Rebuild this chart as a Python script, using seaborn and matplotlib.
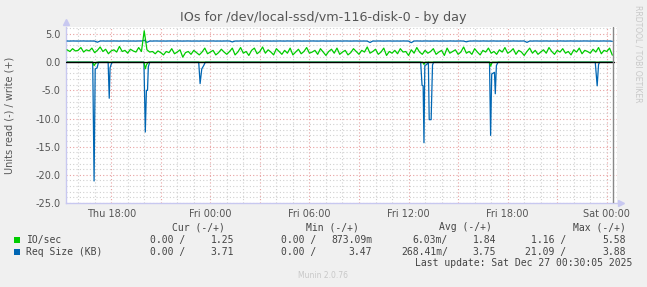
import numpy as np
import pandas as pd
import matplotlib
matplotlib.use("Agg")
import matplotlib.pyplot as plt
import matplotlib.dates as mdates
from matplotlib.ticker import MultipleLocator, FuncFormatter
from matplotlib.patches import Rectangle
import seaborn as sns

# ---------------- data ----------------
sample_start = "2025-12-25 15:20"
sample_step = "10min"

io_write = [
    2.2, 1.9, 2.4, 2.0, 2.1, 2.6, 1.8, 2.2, 2.0, 2.5,
    1.7, 2.1, 2.7, 1.9, 2.3, 1.5, 2.0, 2.2, 1.8, 2.8,
    1.9, 2.1, 1.6, 2.3, 2.0, 1.8, 2.6, 1.9, 5.58, 2.2,
    1.8, 1.9, 1.5, 2.0, 1.7, 1.3, 1.9, 1.7, 2.4, 1.5,
    1.8, 2.2, 0.9, 1.7, 1.9, 1.4, 2.1, 1.7, 1.3, 1.8,
    2.5, 1.5, 1.8, 2.1, 1.3, 1.7, 2.3, 1.8, 1.4, 1.9,
    2.5, 1.3, 1.8, 2.6, 1.6, 1.9, 1.2, 2.1, 2.5, 1.5,
    1.9, 2.7, 1.6, 2.2, 1.8, 1.3, 2.4, 1.9, 1.4, 2.1,
    1.6, 2.5, 1.3, 1.8, 2.3, 1.5, 1.9, 2.6, 1.6, 1.8,
    2.1, 1.4, 2.4, 1.8, 1.2, 1.9, 2.3, 1.6, 2.5, 1.4,
    1.8, 2.1, 1.3, 1.7, 2.4, 1.9, 1.4, 2.1, 1.8, 2.7,
    1.6, 1.9, 2.3, 1.4, 1.8, 2.5, 1.2, 1.9, 1.6, 2.1,
    1.5, 2.4, 1.8, 1.9, 1.2, 2.2, 1.6, 2.6, 1.8, 1.4,
    2.1, 1.6, 1.9, 2.4, 1.4, 1.8, 2.1, 1.2, 2.5, 1.6,
    1.9, 2.2, 1.4, 1.8, 2.7, 1.6, 1.9, 1.4, 2.4, 1.8,
    1.3, 2.1, 1.8, 2.5, 1.6, 1.9, 1.4, 2.2, 1.8, 2.6,
    1.6, 1.9, 2.4, 1.4, 2.1, 1.8, 1.2, 1.9, 2.5, 1.6,
    2.1, 1.4, 1.8, 2.2, 1.6, 2.6, 1.9, 1.4, 2.1, 1.8,
    2.4, 1.6, 1.9, 1.3, 2.2, 1.8, 2.5, 1.5, 2.1, 1.9,
    1.6, 2.3, 1.8, 2.6, 1.5, 2.1, 1.9, 2.5, 1.25,
]

req_write = [
    3.76, 3.75, 3.77, 3.76, 3.75, 3.76, 3.77, 3.75, 3.76, 3.76,
    3.75, 3.55, 3.76, 3.77, 3.75, 3.76, 3.75, 3.77, 3.76, 3.75,
    3.76, 3.77, 3.75, 3.76, 3.76, 3.75, 3.77, 3.76, 3.88, 3.52,
    3.76, 3.75, 3.77, 3.76, 3.75, 3.76, 3.75, 3.77, 3.76, 3.75,
    3.77, 3.76, 3.75, 3.76, 3.77, 3.75, 3.76, 3.76, 3.75, 3.77,
    3.76, 3.75, 3.76, 3.77, 3.75, 3.76, 3.75, 3.76, 3.77, 3.76,
    3.60, 3.76, 3.75, 3.77, 3.76, 3.75, 3.76, 3.77, 3.75, 3.76,
    3.76, 3.75, 3.77, 3.76, 3.75, 3.76, 3.75, 3.77, 3.76, 3.75,
    3.77, 3.76, 3.75, 3.76, 3.77, 3.75, 3.76, 3.76, 3.75, 3.77,
    3.76, 3.75, 3.76, 3.77, 3.75, 3.76, 3.75, 3.76, 3.77, 3.76,
    3.75, 3.77, 3.76, 3.75, 3.76, 3.77, 3.75, 3.76, 3.76, 3.75,
    3.50, 3.76, 3.75, 3.77, 3.76, 3.75, 3.76, 3.77, 3.75, 3.76,
    3.76, 3.75, 3.77, 3.76, 3.75, 3.47, 3.76, 3.77, 3.76, 3.75,
    3.77, 3.76, 3.75, 3.76, 3.77, 3.75, 3.76, 3.76, 3.75, 3.77,
    3.76, 3.75, 3.76, 3.77, 3.75, 3.62, 3.75, 3.76, 3.77, 3.76,
    3.75, 3.77, 3.76, 3.75, 3.76, 3.77, 3.75, 3.76, 3.76, 3.75,
    3.76, 3.75, 3.77, 3.76, 3.75, 3.76, 3.77, 3.52, 3.76, 3.75,
    3.77, 3.76, 3.75, 3.76, 3.77, 3.75, 3.76, 3.76, 3.75, 3.77,
    3.76, 3.75, 3.76, 3.77, 3.75, 3.76, 3.75, 3.76, 3.77, 3.76,
    3.75, 3.77, 3.76, 3.75, 3.76, 3.77, 3.75, 3.76, 3.71,
]

# read side (plotted negative)
req_read_times = [
    "2025-12-25 15:20",
    "2025-12-25 16:53", "2025-12-25 16:58", "2025-12-25 17:02", "2025-12-25 17:09", "2025-12-25 17:14",
    "2025-12-25 17:49", "2025-12-25 17:53", "2025-12-25 17:56", "2025-12-25 18:00", "2025-12-25 18:04",
    "2025-12-25 19:59", "2025-12-25 20:04", "2025-12-25 20:08", "2025-12-25 20:12", "2025-12-25 20:15", "2025-12-25 20:20",
    "2025-12-25 23:18", "2025-12-25 23:23", "2025-12-25 23:29", "2025-12-25 23:36", "2025-12-25 23:42",
    "2025-12-26 12:44", "2025-12-26 12:49", "2025-12-26 12:53", "2025-12-26 12:56", "2025-12-26 12:59",
    "2025-12-26 13:06", "2025-12-26 13:12", "2025-12-26 13:15", "2025-12-26 13:22", "2025-12-26 13:27", "2025-12-26 13:31",
    "2025-12-26 16:54", "2025-12-26 16:58", "2025-12-26 17:02", "2025-12-26 17:12", "2025-12-26 17:15", "2025-12-26 17:19", "2025-12-26 17:25",
    "2025-12-26 23:18", "2025-12-26 23:25", "2025-12-26 23:30", "2025-12-26 23:34",
    "2025-12-27 00:20",
]
req_read = [
    0.0,
    0.0, 21.09, 1.2, 1.0, 0.0,
    0.0, 6.4, 1.0, 0.4, 0.0,
    0.0, 12.4, 5.0, 5.0, 0.8, 0.0,
    0.0, 3.8, 1.2, 0.6, 0.0,
    0.0, 4.1, 4.2, 14.3, 0.6,
    0.4, 0.0, 10.2, 10.2, 0.5, 0.0,
    0.0, 13.0, 2.1, 1.8, 5.6, 0.6, 0.0,
    0.0, 4.2, 0.4, 0.0,
    0.0,
]

io_read_times = [
    "2025-12-25 15:20",
    "2025-12-25 16:53", "2025-12-25 16:58", "2025-12-25 17:02", "2025-12-25 17:08",
    "2025-12-25 19:59", "2025-12-25 20:04", "2025-12-25 20:08", "2025-12-25 20:14",
    "2025-12-26 12:52", "2025-12-26 12:56", "2025-12-26 13:00",
    "2025-12-26 16:54", "2025-12-26 16:58", "2025-12-26 17:04",
    "2025-12-27 00:20",
]
io_read = [
    0.0,
    0.0, 0.6, 0.3, 0.0,
    0.0, 1.16, 0.5, 0.0,
    0.0, 0.4, 0.0,
    0.0, 0.7, 0.0,
    0.0,
]

title = "IOs for /dev/local-ssd/vm-116-disk-0 - by day"
ylabel = "Units read (-) / write (+)"
legend_names = ["IO/sec", "Req Size (KB)"]
legend_cur = [("0.00 /", "1.25"), ("0.00 /", "3.71")]
legend_min = [("0.00 /", "873.09m"), ("0.00 /", "3.47")]
legend_avg = [("6.03m/", "1.84"), ("268.41m/", "3.75")]
legend_max = [("1.16 /", "5.58"), ("21.09 /", "3.88")]
last_update = "Last update: Sat Dec 27 00:30:05 2025"

# ---------------- figure ----------------
GREEN = "#00CC00"
BLUE = "#0066B3"
W, H = 647, 287

sns.set_style("white")
plt.rcParams["font.family"] = ["DejaVu Sans"]

fig = plt.figure(figsize=(W / 100, H / 100), dpi=100, facecolor="#F0F0F0")
L, R, T, B = 66, 617, 27, 203
ax = fig.add_axes([L / W, 1 - B / H, (R - L) / W, (B - T) / H])
ax.set_facecolor("white")

times = pd.date_range(sample_start, periods=len(io_write), freq=sample_step)
df_w = pd.DataFrame({"t": times, "io": io_write, "req": req_write})
df_r1 = pd.DataFrame({"t": pd.to_datetime(req_read_times), "v": -np.array(req_read)})
df_r2 = pd.DataFrame({"t": pd.to_datetime(io_read_times), "v": -np.array(io_read)})

lw = 0.9
sns.lineplot(data=df_r1, x="t", y="v", color=BLUE, lw=lw, ax=ax, zorder=3)
sns.lineplot(data=df_r2, x="t", y="v", color=GREEN, lw=lw, ax=ax, zorder=3)
sns.lineplot(data=df_w, x="t", y="req", color=BLUE, lw=lw, ax=ax, zorder=3)
sns.lineplot(data=df_w, x="t", y="io", color=GREEN, lw=lw, ax=ax, zorder=3)
ax.axhline(0, xmax=0.995, color="black", lw=1.0, zorder=4)
ax.axvline(pd.Timestamp("2025-12-27 00:22"), color="#888888", lw=1.0, zorder=4)

ax.set_xlim(pd.Timestamp("2025-12-25 15:16"), pd.Timestamp("2025-12-27 00:37"))
ax.set_ylim(-25, 6.25)

ax.xaxis.set_major_locator(mdates.HourLocator(byhour=range(0, 24, 3)))
ax.xaxis.set_minor_locator(mdates.HourLocator())


def xfmt(v, pos):
    d = mdates.num2date(v)
    if d.hour % 6 == 0:
        return d.strftime("%a %H:%M")
    return ""


ax.xaxis.set_major_formatter(FuncFormatter(xfmt))
ax.yaxis.set_major_locator(MultipleLocator(5))
ax.yaxis.set_minor_locator(MultipleLocator(1))
ax.yaxis.set_major_formatter(FuncFormatter(lambda v, p: f"{v:.1f}"))

ax.grid(which="major", color="#E8A0A0", linestyle=(0, (1, 2)), lw=0.8, zorder=0)
ax.grid(which="minor", color="#D0D0D0", linestyle=(0, (1, 2)), lw=0.8, zorder=0)
ax.set_axisbelow(True)
ax.tick_params(which="both", length=0, labelsize=7, labelcolor="#555555")
ax.tick_params(axis="x", pad=4)
ax.tick_params(axis="y", pad=4)
ax.set_xlabel("")
ax.set_ylabel("")

for s in ["top", "right"]:
    ax.spines[s].set_visible(False)
for s in ["left", "bottom"]:
    ax.spines[s].set_color("#C8C8F0")
    ax.spines[s].set_linewidth(1.0)

# axis arrows
ax.plot([0], [1.03], marker="^", ms=5, color="#C8C8F0", transform=ax.transAxes, clip_on=False)
ax.plot([1.008], [0], marker=">", ms=5, color="#C8C8F0", transform=ax.transAxes, clip_on=False)


def fx(x):
    return x / W


def fy(y):
    return 1 - y / H


fig.text(fx(323.5), fy(18), title, ha="center", va="center", fontsize=9.2, color="#555555")
fig.text(fx(10), fy(115), ylabel, rotation=90, ha="center", va="center", fontsize=7, color="#555555")
fig.text(fx(638), fy(5), "RRDTOOL / TOBI OETIKER", rotation=270, ha="center", va="top",
         fontsize=5.5, color="#C8C8C8")
fig.text(fx(323.5), fy(276), "Munin 2.0.76", ha="center", va="center", fontsize=5.5, color="#C8C8C8")

mono = dict(family="DejaVu Sans Mono", fontsize=7, color="#444444", va="center")
hy = 227
fig.text(fx(172), fy(hy), "Cur (-/+)", ha="left", **mono)
fig.text(fx(306), fy(hy), "Min (-/+)", ha="left", **mono)
fig.text(fx(439), fy(hy), "Avg (-/+)", ha="left", **mono)
fig.text(fx(626), fy(hy), "Max (-/+)", ha="right", **mono)

rows_y = [240, 252]
colors = [GREEN, BLUE]
for i, yy in enumerate(rows_y):
    fig.add_artist(Rectangle((fx(14), fy(yy + 3)), 6 / W, 6 / H, transform=fig.transFigure,
                             facecolor=colors[i], edgecolor="none"))
    fig.text(fx(26.5), fy(yy), legend_names[i], ha="left", **mono)
    fig.text(fx(150), fy(yy), legend_cur[i][0], ha="left", **mono)
    fig.text(fx(234), fy(yy), legend_cur[i][1], ha="right", **mono)
    fig.text(fx(281), fy(yy), legend_min[i][0], ha="left", **mono)
    fig.text(fx(372), fy(yy), legend_min[i][1], ha="right", **mono)
    fig.text(fx(448), fy(yy), legend_avg[i][0], ha="right", **mono)
    fig.text(fx(496), fy(yy), legend_avg[i][1], ha="right", **mono)
    fig.text(fx(566), fy(yy), legend_max[i][0], ha="right", **mono)
    fig.text(fx(626), fy(yy), legend_max[i][1], ha="right", **mono)

fig.text(fx(632), fy(263.5), last_update, ha="right", **mono)

fig.savefig("out.png", dpi=100, facecolor=fig.get_facecolor())
